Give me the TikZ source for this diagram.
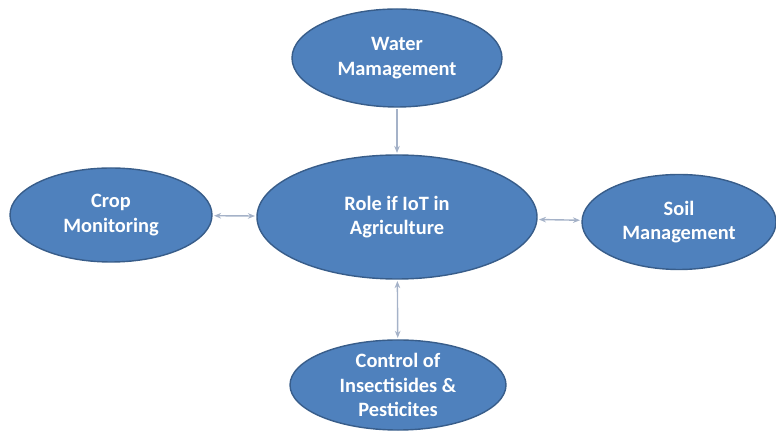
\documentclass[tikz,border=0pt]{standalone}
\usepackage{fontspec}
\setmainfont{Carlito}
\usepackage{tikz}
\usetikzlibrary{
  shapes.geometric,
  arrows.meta
}
\definecolor{TopicBlue}{RGB}{79, 129, 189}
\definecolor{TopicEdge}{RGB}{56, 93, 138}
\definecolor{LinkGray}{RGB}{165, 178, 200}
\tikzset{
    topic/.style={ellipse, fill=TopicBlue, draw=TopicEdge, line width=1pt, inner sep=0pt,
        text=white, align=center, font=\fontsize{14.5}{17.5}\selectfont\bfseries},
    link/.style={draw=LinkGray, line width=1pt, shorten <=1pt, shorten >=1pt}
}

\begin{document}
\begin{tikzpicture}
    \useasboundingbox (0,0) rectangle (19.4,10.8);
    % hub and its four branches
    \node[topic, minimum width=7cm, minimum height=3.1cm] (hub) at (9.925,5.375) {Role if IoT in\\Agriculture};
    \node[topic, minimum width=5.25cm, minimum height=2.45cm] (water) at (9.925,9.35) {Water\\Mamagement};
    \node[topic, minimum width=5.05cm, minimum height=2.35cm] (crop) at (2.775,5.425) {Crop\\Monitoring};
    \node[topic, minimum width=4.85cm, minimum height=2.375cm] (soil) at (16.975,5.25) {Soil\\Management};
    \node[topic, minimum width=5.4cm, minimum height=2.25cm] (control) at (9.95,1.175) {Control of\\Insectisides \&\\Pesticites};

    \draw[link, -{Stealth[length=5pt, width=4pt]}] (water) -- (hub);
    \draw[link, {Stealth[length=5pt, width=4pt]}-{Stealth[length=5pt, width=4pt]}] (crop) -- (hub);
    \draw[link, {Stealth[length=5pt, width=4pt]}-{Stealth[length=5pt, width=4pt]}] (hub) -- (soil);
    \draw[link, {Stealth[length=5pt, width=4pt]}-{Stealth[length=5pt, width=4pt]}] (hub) -- (control);
\end{tikzpicture}
\end{document}
